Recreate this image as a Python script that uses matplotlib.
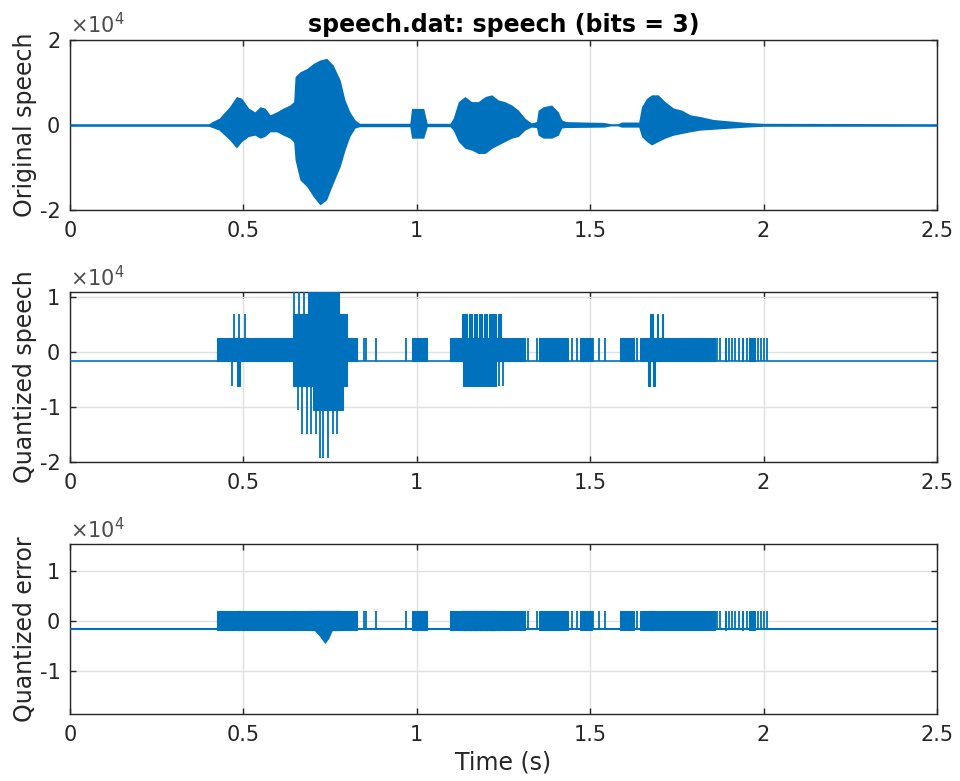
import matplotlib
matplotlib.use("Agg")
import matplotlib.pyplot as plt
import numpy as np

# ── Signal data (amplitudes in units of 1e4) ─────────────────────────────────

# Envelope of the original recording: time (s), upper and lower extent
orig_t = [0.00, 0.40, 0.41, 0.43, 0.46, 0.48, 0.495, 0.515, 0.533, 0.548,
          0.562, 0.577, 0.596, 0.615, 0.634, 0.645, 0.649, 0.663, 0.683, 0.702,
          0.721, 0.740, 0.759, 0.779, 0.793, 0.807, 0.822, 0.835, 0.980, 0.985,
          1.020, 1.030, 1.096, 1.105, 1.120, 1.139, 1.158, 1.177, 1.197, 1.216,
          1.235, 1.254, 1.274, 1.293, 1.312, 1.330, 1.345, 1.350, 1.365, 1.389,
          1.408, 1.418, 1.430, 1.540, 1.560, 1.580, 1.590, 1.640, 1.648, 1.663,
          1.677, 1.696, 1.716, 1.740, 1.764, 1.788, 1.817, 1.855, 1.950, 2.000,
          2.500]
orig_hi = [0.03, 0.03, 0.08, 0.16, 0.43, 0.67, 0.63, 0.40, 0.31, 0.43,
           0.40, 0.24, 0.31, 0.40, 0.47, 0.55, 1.14, 1.25, 1.33, 1.45,
           1.53, 1.57, 1.41, 1.06, 0.59, 0.31, 0.12, 0.04, 0.04, 0.39,
           0.39, 0.04, 0.04, 0.16, 0.55, 0.67, 0.55, 0.55, 0.67, 0.71,
           0.59, 0.55, 0.47, 0.35, 0.16, 0.05, 0.08, 0.35, 0.43, 0.47,
           0.31, 0.12, 0.08, 0.06, 0.03, 0.03, 0.07, 0.07, 0.43, 0.63,
           0.71, 0.71, 0.55, 0.40, 0.35, 0.24, 0.20, 0.13, 0.06, 0.04,
           0.03]
orig_lo = [-0.03, -0.03, -0.06, -0.12, -0.35, -0.54, -0.39, -0.27, -0.24, -0.31,
           -0.27, -0.16, -0.16, -0.24, -0.31, -0.40, -0.82, -1.29, -1.45, -1.69,
           -1.88, -1.76, -1.37, -0.98, -0.59, -0.27, -0.07, -0.04, -0.04, -0.31,
           -0.31, -0.04, -0.04, -0.12, -0.39, -0.55, -0.59, -0.67, -0.67, -0.55,
           -0.47, -0.39, -0.31, -0.27, -0.12, -0.05, -0.06, -0.24, -0.31, -0.31,
           -0.24, -0.07, -0.06, -0.05, -0.02, -0.02, -0.05, -0.05, -0.27, -0.39,
           -0.47, -0.39, -0.31, -0.24, -0.20, -0.16, -0.12, -0.10, -0.05, -0.03,
           -0.03]

# 3-bit quantizer output levels
q_levels = [-1.93, -1.49, -1.05, -0.61, -0.17, 0.26, 0.70, 1.14]
q_rest = 4  # level held during silence

# Active stretches of the quantized signal: start, end (s), lowest / highest level index
q_start = [0.425, 0.481, 0.644, 0.686, 0.700, 0.798, 0.985, 1.096, 1.129, 1.151,
           1.165, 1.179, 1.194, 1.208, 1.235, 1.134, 1.353, 1.471, 1.586, 1.645,
           1.672, 1.692, 1.706, 1.668, 1.682, 1.888, 1.937, 1.959]
q_end = [0.649, 0.490, 0.798, 0.777, 0.787, 0.827, 1.029, 1.312, 1.146, 1.158,
         1.173, 1.187, 1.202, 1.228, 1.242, 1.228, 1.437, 1.504, 1.626, 1.860,
         1.680, 1.696, 1.711, 1.672, 1.687, 1.893, 1.941, 1.976]
q_lo = [4, 3, 3, 4, 2, 4, 4, 4, 4, 4,
        4, 4, 4, 4, 4, 3, 4, 4, 4, 4,
        4, 4, 4, 3, 3, 4, 4, 4]
q_hi = [5, 4, 6, 7, 4, 5, 5, 5, 6, 6,
        6, 6, 6, 6, 6, 4, 5, 5, 5, 5,
        6, 6, 6, 4, 4, 5, 5, 5]

# Single-sample excursions: time (s), lowest / highest level index
spike_t = [0.467, 0.472, 0.488, 0.506, 0.646, 0.659, 0.674, 0.658, 0.668, 0.684,
           0.695, 0.708, 0.759, 0.769, 0.721, 0.730, 0.745, 0.849, 0.855, 0.882,
           0.969, 1.237, 1.249, 1.322, 1.346, 1.447, 1.461, 1.509, 1.526, 1.543,
           1.636, 1.866, 1.874, 1.901, 1.910, 1.919, 1.930, 1.951, 1.985, 1.994,
           2.001, 2.009]
spike_lo = [3, 4, 4, 4, 4, 4, 4, 2, 1, 1,
            1, 1, 1, 1, 0, 0, 0, 4, 4, 4,
            4, 3, 3, 4, 4, 4, 4, 4, 4, 4,
            4, 4, 4, 4, 4, 4, 4, 4, 4, 4,
            4, 4]
spike_hi = [4, 6, 6, 6, 7, 7, 7, 4, 4, 4,
            4, 4, 4, 4, 4, 4, 4, 5, 5, 5,
            5, 4, 4, 5, 5, 5, 5, 5, 5, 5,
            5, 5, 5, 5, 5, 5, 5, 5, 5, 5,
            5, 5]

# Quantization error: band while the quantizer toggles, resting offset, clipping dip
err_band = [-0.19, 0.20]
err_rest = -0.17
dip_t = [0.706, 0.720, 0.735, 0.745, 0.755]
dip_lo = [-0.19, -0.30, -0.44, -0.35, -0.19]

SCALE = 1e4
BLUE = "#0072BD"
AX_COLOR = "#262626"
GRID = "#e0e0e0"

plt.rcParams["font.family"] = "DejaVu Sans"
plt.rcParams["axes.unicode_minus"] = False


def style_axis(ax, ylim, yticks, ylabel):
    ax.set_xlim(0, 2.5)
    ax.set_ylim(ylim[0] * SCALE, ylim[1] * SCALE)
    ax.set_xticks([0, 0.5, 1, 1.5, 2, 2.5])
    ax.set_xticklabels(["0", "0.5", "1", "1.5", "2", "2.5"])
    ax.set_yticks([v * SCALE for v in yticks])
    ax.set_yticklabels([f"{v:g}" for v in yticks])
    # exponent shown once above the axis, MATLAB style
    ax.text(0.0, 1.015, r"$\times\mathregular{10^{4}}$", transform=ax.transAxes,
            fontsize=15, color="#4d4d4d", ha="left", va="bottom")
    ax.grid(True, color=GRID, linewidth=1.0, zorder=0)
    ax.set_axisbelow(True)
    ax.tick_params(direction="in", length=4, width=1, colors=AX_COLOR,
                   labelsize=15, top=True, right=True)
    ax.tick_params(axis="x", pad=8)
    ax.tick_params(axis="y", pad=7)
    for spine in ax.spines.values():
        spine.set_edgecolor(AX_COLOR)
        spine.set_linewidth(1.0)
    ax.set_ylabel(ylabel, fontsize=17, color=AX_COLOR, labelpad=2)


def level(idx):
    return np.array([q_levels[i] for i in idx]) * SCALE


fig = plt.figure(figsize=(9.6, 7.81), dpi=100)
ax1 = fig.add_axes([0.0729, 0.7311, 0.9031, 0.2177])
ax2 = fig.add_axes([0.0729, 0.4088, 0.9031, 0.2169])
ax3 = fig.add_axes([0.0729, 0.0854, 0.9031, 0.2177])

# Original speech
t = np.array(orig_t)
ax1.fill_between(t, np.array(orig_lo) * SCALE, np.array(orig_hi) * SCALE,
                 color=BLUE, linewidth=0, zorder=3)
style_axis(ax1, (-2, 2), [-2, 0, 2], "Original speech")
ax1.set_title("speech.dat: speech (bits = 3)", fontsize=17, fontweight="bold",
              color="black", pad=6)

# Quantized speech
ax2.plot([0, 2.5], [q_levels[q_rest] * SCALE] * 2, color=BLUE, lw=1.2, zorder=3)
qs, qe = np.array(q_start), np.array(q_end)
ax2.bar(qs, level(q_hi) - level(q_lo), width=qe - qs, bottom=level(q_lo),
        align="edge", color=BLUE, edgecolor=BLUE, linewidth=0.8, zorder=3)
ax2.vlines(spike_t, level(spike_lo), level(spike_hi), color=BLUE, lw=1.3,
           zorder=3)
style_axis(ax2, (-2, 1.09), [-2, -1, 0, 1], "Quantized speech")

# Quantization error
ax3.plot([0, 2.5], [err_rest * SCALE] * 2, color=BLUE, lw=1.5, zorder=3)
band_h = (err_band[1] - err_band[0]) * SCALE
ax3.bar(qs, [band_h] * len(qs), width=qe - qs, bottom=err_band[0] * SCALE,
        align="edge", color=BLUE, edgecolor=BLUE, linewidth=0.8, zorder=3)
ax3.vlines(spike_t, err_band[0] * SCALE, err_band[1] * SCALE, color=BLUE,
           lw=1.3, zorder=3)
ax3.fill_between(dip_t, np.array(dip_lo) * SCALE, err_rest * SCALE,
                 color=BLUE, linewidth=0.6, zorder=3)
style_axis(ax3, (-1.87, 1.53), [-1, 0, 1], "Quantized error")
ax3.set_xlabel("Time (s)", fontsize=17, color=AX_COLOR, labelpad=4)

fig.savefig("out.png", dpi=100, facecolor="white")
